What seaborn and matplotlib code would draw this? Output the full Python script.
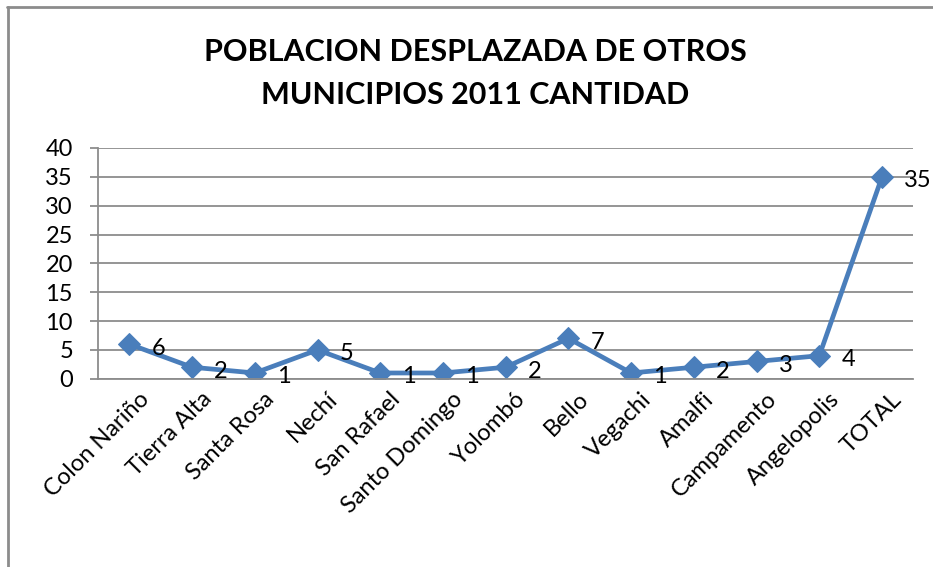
import numpy as np
import pandas as pd
import matplotlib.pyplot as plt
import matplotlib.transforms as mtransforms
import seaborn as sns
from matplotlib.lines import Line2D

municipios = ['Colon Nariño', 'Tierra Alta', 'Santa Rosa', 'Nechí', 'San Rafael',
              'Santo Domingo', 'Yolombó', 'Bello', 'Vegachi', 'Amalfi',
              'Campamento', 'Angelopolis', 'TOTAL']
cantidad = [6, 2, 1, 5, 1, 1, 2, 7, 1, 2, 3, 4, 35]

df = pd.DataFrame({'Municipio': municipios, 'Cantidad': cantidad})

sns.set_style('white')
plt.rcParams['font.family'] = ['Lato', 'DejaVu Sans']
plt.rcParams['text.color'] = 'black'
plt.rcParams['xtick.labelcolor'] = 'black'
plt.rcParams['ytick.labelcolor'] = 'black'

fig = plt.figure(figsize=(9.33, 5.67), dpi=100)
ax = fig.add_axes([0.105, 0.332, 0.874, 0.407])

blue = '#4A7EBB'
sns.lineplot(data=df, x='Municipio', y='Cantidad', ax=ax, color=blue,
             linewidth=3.4, marker='D', markersize=11, markeredgecolor=blue)

# data labels to the right of each point
for i, v in enumerate(cantidad):
    ax.annotate(str(v), (i, v), xytext=(22, -4), textcoords='offset pixels',
                ha='left', va='center', fontsize=17, color='black')

ax.set_xlim(-0.5, len(municipios) - 0.5)
ax.set_ylim(0, 40)
ax.set_yticks(np.arange(0, 41, 5))
ax.yaxis.grid(True, color='#8c8c8c', linewidth=1.3)
ax.set_axisbelow(True)
ax.set_xlabel('')
ax.set_ylabel('')

ax.set_xticks(np.arange(len(municipios)))
ax.set_xticklabels(municipios, rotation=45, ha='right', rotation_mode='anchor', fontsize=17)
ax.set_xticks(np.arange(-0.5, len(municipios), 1), minor=True)
ax.tick_params(axis='x', which='major', length=0, pad=7)
ax.tick_params(axis='x', which='minor', length=6, width=1.3, color='#8c8c8c', direction='out')
ax.tick_params(axis='y', which='major', length=6, width=1.3, color='#8c8c8c',
               direction='out', labelsize=17, pad=12, left=True)

# nudge category labels a bit to the right
shift = mtransforms.ScaledTranslation(9 / 100, 0, fig.dpi_scale_trans)
for lbl in ax.get_xticklabels():
    lbl.set_transform(lbl.get_transform() + shift)

for s in ['top', 'right']:
    ax.spines[s].set_visible(False)
for s in ['left', 'bottom']:
    ax.spines[s].set_color('#8c8c8c')
    ax.spines[s].set_linewidth(1.3)

fig.text(0.509, 0.908, 'POBLACION DESPLAZADA DE OTROS', ha='center', va='center',
         fontsize=22, fontweight='bold', color='black')
fig.text(0.509, 0.832, 'MUNICIPIOS 2011 CANTIDAD', ha='center', va='center',
         fontsize=22, fontweight='bold', color='black')

# chart border (left and top edges visible)
fig.add_artist(Line2D([0.0085, 0.0085], [0, 0.988], transform=fig.transFigure,
                      color='#8c8c8c', linewidth=2))
fig.add_artist(Line2D([0.0075, 1.0], [0.988, 0.988], transform=fig.transFigure,
                      color='#8c8c8c', linewidth=2))

fig.savefig('out.png', dpi=100)
